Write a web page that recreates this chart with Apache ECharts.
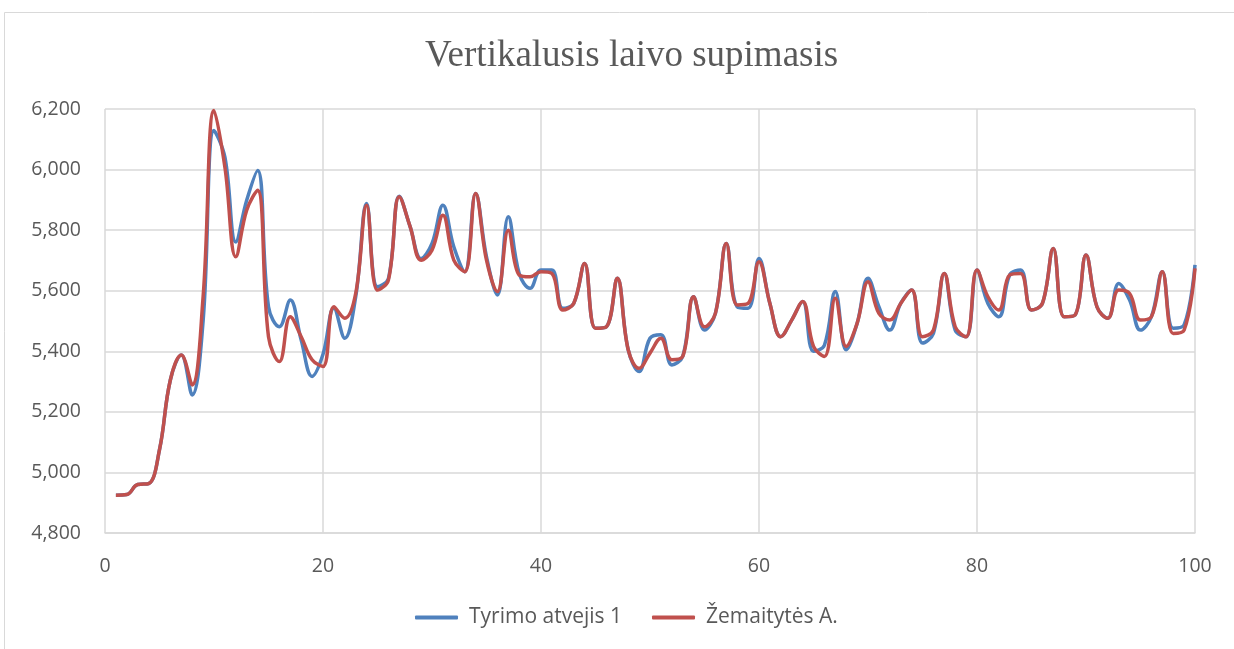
<!DOCTYPE html>
<html lang="lt" style="height: 100%;">
<head>
  <meta charset="utf-8">
  <script src="https://cdn.jsdelivr.net/npm/echarts@6/dist/echarts.min.js"></script>
</head>
<body style="height: 100%; margin: 0; background: #fff;">
  <div id="container" style="width: 1234px; height: 649px;"></div>
  <script type="text/javascript">
    var titleText = 'Vertikalusis laivo supimasis';
    var seriesNames = ['Tyrimo atvejis 1', 'Žemaitytės A.'];
    var xTicks = [0, 20, 40, 60, 80, 100];
    var yTicks = [4800, 5000, 5200, 5400, 5600, 5800, 6000, 6200];

    // time steps 1..100
    var steps = [1,2,3,4,5,6,7,8,9,10,11,12,13,14,15,16,17,18,19,20,
      21,22,23,24,25,26,27,28,29,30,31,32,33,34,35,36,37,38,39,40,
      41,42,43,44,45,46,47,48,49,50,51,52,53,54,55,56,57,58,59,60,
      61,62,63,64,65,66,67,68,69,70,71,72,73,74,75,76,77,78,79,80,
      81,82,83,84,85,86,87,88,89,90,91,92,93,94,95,96,97,98,99,100];

    var tyrimo = [4925,4927,4960,4963,5075,5306,5388,5256,5500,6129,
      6041,5761,5899,5997,5547,5481,5569,5437,5317,5390,
      5542,5443,5580,5888,5613,5640,5912,5811,5706,5756,
      5882,5745,5663,5921,5712,5586,5844,5657,5608,5668,
      5668,5542,5558,5690,5476,5481,5641,5405,5333,5443,
      5455,5355,5383,5580,5470,5525,5756,5547,5542,5706,
      5558,5448,5503,5564,5400,5420,5597,5405,5492,5641,
      5547,5470,5558,5602,5427,5459,5657,5470,5448,5668,
      5558,5514,5652,5668,5536,5558,5739,5514,5520,5718,
      5547,5509,5624,5569,5470,5514,5663,5476,5487,5685];

    var zemaitytes = [4925,4927,4960,4963,5075,5306,5388,5289,5580,6195,
      6008,5712,5866,5932,5448,5366,5514,5448,5372,5350,
      5547,5509,5591,5882,5602,5635,5910,5811,5701,5734,
      5849,5701,5663,5921,5701,5597,5800,5652,5646,5663,
      5657,5536,5558,5690,5476,5481,5641,5405,5344,5394,
      5443,5372,5383,5580,5481,5525,5756,5553,5558,5696,
      5558,5448,5503,5564,5416,5383,5575,5416,5492,5630,
      5525,5503,5558,5602,5448,5470,5657,5481,5448,5668,
      5580,5536,5652,5657,5536,5558,5739,5514,5520,5718,
      5547,5509,5602,5591,5503,5514,5663,5459,5470,5674];

    function pairs(values) {
      return steps.map(function (s, i) { return [s, values[i]]; });
    }

    var myChart = echarts.init(document.getElementById('container'), null, { renderer: 'canvas' });

    var labelStyle = { color: '#595959', fontFamily: 'Open Sans', fontSize: 19.5 };

    var option = {
      animation: false,
      backgroundColor: '#fff',
      graphic: [{
        type: 'rect',
        shape: { x: 4.5, y: 12.5, width: 1240, height: 660 },
        style: { fill: 'none', stroke: '#d9d9d9', lineWidth: 1 },
        silent: true
      }],
      title: {
        text: titleText,
        left: 420,
        top: 33,
        textStyle: { fontFamily: 'Liberation Serif', fontWeight: 'normal', fontSize: 37, color: '#595959' }
      },
      legend: {
        bottom: 16,
        left: 410,
        itemGap: 30,
        itemWidth: 43,
        itemHeight: 4,
        icon: 'roundRect',
        textStyle: { color: '#595959', fontFamily: 'Open Sans', fontSize: 21, padding: [0, 0, 0, 6] },
        data: seriesNames
      },
      grid: { left: 105, right: 39, top: 109, bottom: 116 },
      xAxis: {
        type: 'value',
        min: xTicks[0],
        max: xTicks[xTicks.length - 1],
        interval: 20,
        axisLine: { lineStyle: { color: '#d9d9d9', width: 1.5 } },
        axisTick: { show: false },
        axisLabel: Object.assign({ margin: 23 }, labelStyle),
        splitLine: { show: true, lineStyle: { color: '#d9d9d9', width: 1.5 } }
      },
      yAxis: {
        type: 'value',
        min: yTicks[0],
        max: yTicks[yTicks.length - 1],
        interval: 200,
        axisLine: { show: false },
        axisTick: { show: false },
        axisLabel: Object.assign({
          margin: 24,
          formatter: function (v) { return v.toLocaleString('en-US'); }
        }, labelStyle),
        splitLine: { show: true, lineStyle: { color: '#d9d9d9', width: 1.5 } }
      },
      series: [
        {
          name: seriesNames[0],
          type: 'line',
          data: pairs(tyrimo),
          smooth: 0.4,
          showSymbol: false,
          color: '#4F81BD',
          lineStyle: { width: 3.5, color: '#4F81BD' }
        },
        {
          name: seriesNames[1],
          type: 'line',
          data: pairs(zemaitytes),
          smooth: 0.4,
          showSymbol: false,
          color: '#C0504D',
          lineStyle: { width: 3.5, color: '#C0504D' }
        }
      ]
    };

    myChart.setOption(option);
    window.addEventListener('resize', myChart.resize);
  </script>
</body>
</html>
